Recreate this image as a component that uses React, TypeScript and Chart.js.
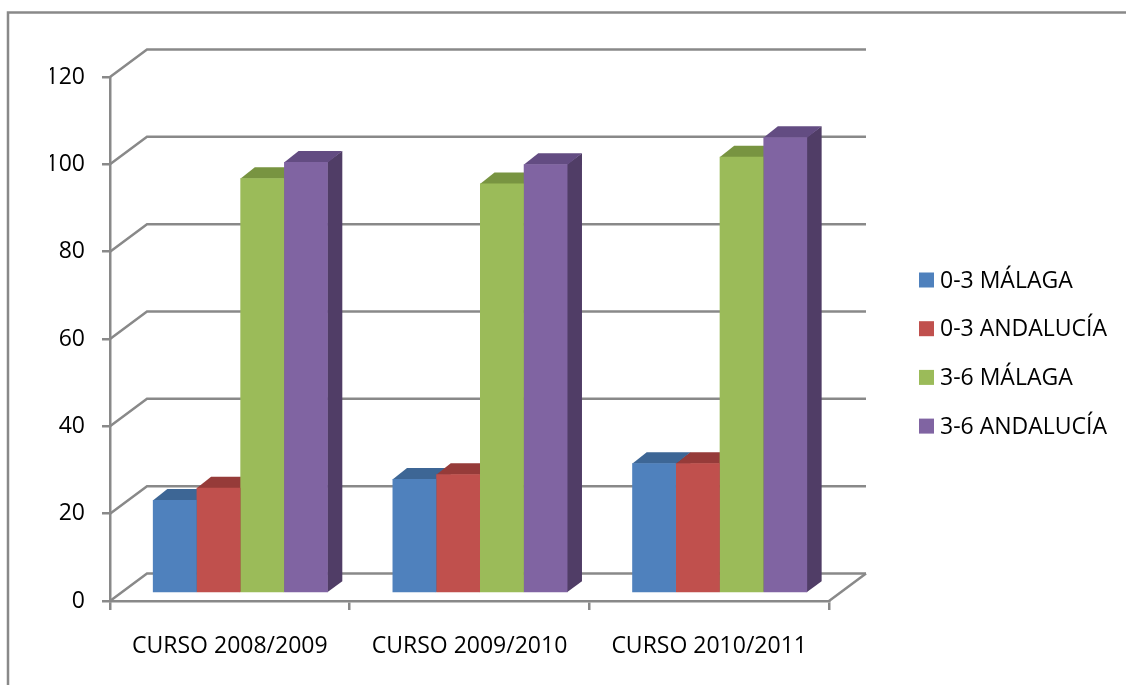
import React, { useEffect, useRef } from 'react';
import { Chart, registerables } from 'chart.js';

Chart.register(...registerables);

// ---- data ----
const categories = ['CURSO 2008/2009', 'CURSO 2009/2010', 'CURSO 2010/2011'];
const seriesLabels = ['0-3 MÁLAGA', '0-3 ANDALUCÍA', '3-6 MÁLAGA', '3-6 ANDALUCÍA'];
const malaga03 = [21.4, 26.2, 29.8];
const andalucia03 = [24.2, 27.3, 29.8];
const malaga36 = [95.1, 93.9, 100.0];
const andalucia36 = [98.8, 98.3, 104.5];
const yTickValues = [0, 20, 40, 60, 80, 100, 120];

// ---- styles ----
const frontColors = ['#4F81BD', '#C0504D', '#9BBB59', '#8064A2'];
const topColors = ['#3D6695', '#963B39', '#789441', '#634C82'];
const sideColors = ['#33557C', '#7D312F', '#637A35', '#503D66'];
const GRID = '#898989';
const FONT = "'Open Sans', sans-serif";
const FONT_SIZE = 23;

const W = 1126;
const H = 685;
const WALL_DX = 37;
const WALL_DY = -27.5;
const BAR_DX = 10.5;
const BAR_DY = -7.5;
const DEPTH_DX = 14.5;
const DEPTH_DY = -11;

const threeD = {
  id: 'threeD',
  beforeDatasetsDraw(chart: any) {
    const { ctx, chartArea, scales } = chart;
    const ys = scales.y;
    ctx.save();
    ctx.strokeStyle = GRID;
    ctx.lineWidth = 2.5;
    ctx.lineJoin = 'miter';
    // outer frame (only top and left visible)
    ctx.beginPath();
    ctx.moveTo(8, H + 10);
    ctx.lineTo(8, 12.5);
    ctx.lineTo(W + 10, 12.5);
    ctx.stroke();
    // back wall gridlines + left wall diagonals
    for (const v of yTickValues) {
      const py = ys.getPixelForValue(v);
      ctx.beginPath();
      ctx.moveTo(chartArea.left, py);
      ctx.lineTo(chartArea.left + WALL_DX, py + WALL_DY);
      ctx.lineTo(chartArea.right + WALL_DX, py + WALL_DY);
      ctx.stroke();
    }
    // floor right edge
    ctx.beginPath();
    ctx.moveTo(chartArea.right, chartArea.bottom);
    ctx.lineTo(chartArea.right + WALL_DX, chartArea.bottom + WALL_DY);
    ctx.stroke();
    ctx.restore();

    // bar depth faces (tops and sides), drawn left to right
    ctx.save();
    ctx.translate(BAR_DX, BAR_DY);
    chart.data.datasets.forEach((_ds: any, di: number) => {
      const meta = chart.getDatasetMeta(di);
      meta.data.forEach((el: any) => {
        const p = el.getProps(['x', 'y', 'base', 'width'], true);
        const l = p.x - p.width / 2;
        const r = p.x + p.width / 2;
        const top = p.y;
        const base = p.base;
        ctx.fillStyle = sideColors[di];
        ctx.beginPath();
        ctx.moveTo(r - 0.5, top);
        ctx.lineTo(r + DEPTH_DX, top + DEPTH_DY);
        ctx.lineTo(r + DEPTH_DX, base + DEPTH_DY);
        ctx.lineTo(r - 0.5, base);
        ctx.closePath();
        ctx.fill();
        ctx.fillStyle = topColors[di];
        ctx.beginPath();
        ctx.moveTo(l, top + 0.5);
        ctx.lineTo(l + DEPTH_DX, top + DEPTH_DY);
        ctx.lineTo(r + DEPTH_DX, top + DEPTH_DY);
        ctx.lineTo(r, top + 0.5);
        ctx.closePath();
        ctx.fill();
      });
    });
    // stay translated so the library draws front faces in the bar plane
  },
  afterDatasetsDraw(chart: any) {
    chart.ctx.restore();
  },
  afterDraw(chart: any) {
    const { ctx } = chart;
    ctx.save();
    ctx.font = `${FONT_SIZE}px ${FONT}`;
    ctx.textBaseline = 'middle';
    ctx.textAlign = 'left';
    const x0 = 919;
    const y0 = 280;
    const step = 48.7;
    chart.data.datasets.forEach((ds: any, i: number) => {
      const cy = y0 + i * step;
      ctx.fillStyle = frontColors[i];
      ctx.fillRect(x0, cy - 7.5, 15, 15);
      ctx.fillStyle = '#000';
      ctx.fillText(ds.label, x0 + 21, cy + 1);
    });
    ctx.restore();
  },
};

export default function App() {
  const ref = useRef<HTMLCanvasElement | null>(null);

  useEffect(() => {
    if (!ref.current) return;
    const seriesValues = [malaga03, andalucia03, malaga36, andalucia36];
    const chart = new Chart(ref.current, {
      type: 'bar',
      data: {
        labels: categories,
        datasets: seriesValues.map((vals, i) => ({
          label: seriesLabels[i],
          data: vals,
          backgroundColor: frontColors[i],
          borderWidth: 0,
          categoryPercentage: 0.73,
          barPercentage: 1.0,
        })),
      },
      options: {
        responsive: false,
        animation: false,
        devicePixelRatio: 1,
        layout: { padding: { left: 50, top: 77, right: W - 829, bottom: 14 } },
        plugins: {
          legend: { display: false },
          tooltip: { enabled: false },
        },
        scales: {
          x: {
            offset: true,
            afterFit: (s: any) => { s.height = 70; },
            grid: {
              offset: true,
              drawOnChartArea: false,
              drawTicks: true,
              tickLength: 9,
              color: GRID,
              lineWidth: 2.5,
            },
            border: { display: true, color: GRID, width: 2.5 },
            ticks: {
              color: '#000',
              padding: 23,
              font: { family: FONT, size: FONT_SIZE },
              maxRotation: 0,
            },
          },
          y: {
            min: 0,
            max: 120,
            afterFit: (s: any) => { s.width = 60; },
            afterBuildTicks: (s: any) => { s.ticks = yTickValues.map((v) => ({ value: v })); },
            grid: {
              drawOnChartArea: false,
              drawTicks: true,
              tickLength: 8,
              color: GRID,
              lineWidth: 2.5,
            },
            border: { display: true, color: GRID, width: 2.5 },
            ticks: {
              color: '#000',
              padding: 17,
              font: { family: FONT, size: FONT_SIZE },
            },
          },
        },
      },
      plugins: [threeD],
    } as any);
    return () => chart.destroy();
  }, []);

  return (
    <div style={{ position: 'fixed', left: 0, top: 0, width: W, height: H, background: '#fff' }}>
      <canvas ref={ref} width={W} height={H} style={{ display: 'block' }} />
    </div>
  );
}
